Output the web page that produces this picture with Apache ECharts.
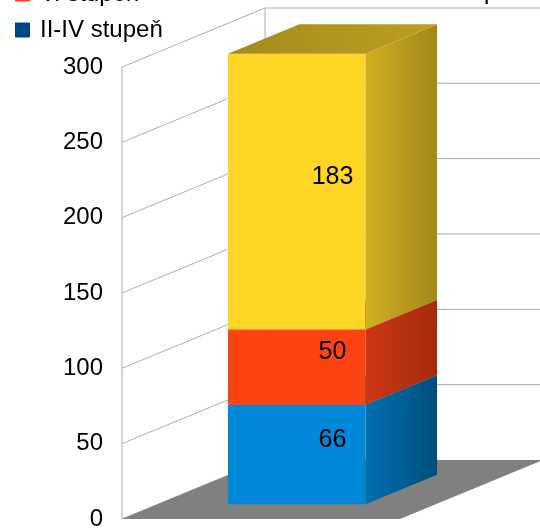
<!DOCTYPE html>
<html>
<head>
<meta charset="utf-8">
<script src="https://cdn.jsdelivr.net/npm/echarts@6/dist/echarts.min.js"></script>
<style>
html, body { margin: 0; padding: 0; background: #fff; }
#chart { width: 540px; height: 531px; }
</style>
</head>
<body>
<div id="chart"></div>
<script>
var categories = [''];
var yTicks = [0, 50, 100, 150, 200, 250, 300];
var blueName = 'II-IV stupeň';
var redName = 'V. stupeň';
var yellowName = 'ostatní';
var blueValues = [66];
var redValues = [50];
var yellowValues = [183];

// 3d look: depth of the box in pixels, bar sits from 1/4 to 3/4 of it
var DEPTH = [143, -59];
var FONT = 'Liberation Sans';

var chart = echarts.init(document.getElementById('chart'));

function stackData(vals, below) {
    return vals.map(function (v, i) {
        var lo = 0;
        below.forEach(function (b) { lo += b[i]; });
        return [i, lo, lo + v, v];
    });
}

function grad(c1, c2, x2, y2) {
    return new echarts.graphic.LinearGradient(0, 0, x2, y2, [
        {offset: 0, color: c1}, {offset: 1, color: c2}
    ]);
}

function boxItem(faces) {
    return function (params, api) {
        var cat = api.value(0), lo = api.value(1), hi = api.value(2);
        var c0 = api.coord([cat, lo]), c1 = api.coord([cat, hi]);
        var hw = api.size([1, 0])[0] * 0.2475;
        var fx = DEPTH[0] * 0.25, fy = DEPTH[1] * 0.25;
        var bx = DEPTH[0] * 0.75, by = DEPTH[1] * 0.75;
        var xl = c0[0] - hw, xr = c0[0] + hw;
        var yb = c0[1], yt = c1[1];
        var front = [[xl + fx, yb + fy], [xr + fx, yb + fy], [xr + fx, yt + fy], [xl + fx, yt + fy]];
        var side = [[xr + fx, yb + fy], [xr + bx, yb + by], [xr + bx, yt + by], [xr + fx, yt + fy]];
        var top = [[xl + fx, yt + fy], [xr + fx, yt + fy], [xr + bx, yt + by], [xl + bx, yt + by]];
        var mid = api.coord([cat, (lo + hi) / 2]);
        return {
            type: 'group',
            children: [
                {type: 'polygon', shape: {points: front}, style: {fill: faces.front}},
                {type: 'polygon', shape: {points: side}, style: {fill: grad(faces.side[0], faces.side[1], 1, 0)}},
                {type: 'polygon', shape: {points: top}, style: {fill: grad(faces.top[0], faces.top[1], 1, 0)}},
                {
                    type: 'text', z2: 10,
                    x: mid[0] + DEPTH[0] * 0.5, y: mid[1] + DEPTH[1] * 0.5,
                    style: {
                        text: String(api.value(3)), fill: '#000', fontSize: 25, fontFamily: FONT,
                        align: 'center', verticalAlign: 'middle'
                    }
                }
            ]
        };
    };
}

function wallItem(params, api) {
    var v = api.value(1);
    var p = api.coord([0, v]);
    var bw = api.size([1, 0])[0];
    var xl = p[0] - bw / 2, xr = p[0] + bw / 2;
    var line = {stroke: '#adadad', lineWidth: 1};
    var kids = [
        {type: 'line', shape: {x1: xl, y1: p[1], x2: xl + DEPTH[0], y2: p[1] + DEPTH[1]}, style: line}
    ];
    if (v > 0) {
        kids.push({type: 'line', shape: {x1: xl + DEPTH[0], y1: p[1] + DEPTH[1], x2: xr + DEPTH[0], y2: p[1] + DEPTH[1]}, style: line});
    } else {
        var t = api.coord([0, yTicks[yTicks.length - 1]]);
        kids.push({type: 'line', shape: {x1: xl, y1: p[1], x2: xl, y2: t[1]}, style: line});
        kids.push({type: 'line', shape: {x1: xl + DEPTH[0], y1: p[1] + DEPTH[1], x2: xl + DEPTH[0], y2: t[1] + DEPTH[1]}, style: line});
        kids.push({
            type: 'polygon', z2: 5,
            shape: {points: [[xl, p[1]], [xr, p[1]], [xr + DEPTH[0], p[1] + DEPTH[1]], [xl + DEPTH[0], p[1] + DEPTH[1]]]},
            style: {fill: '#808080'}
        });
    }
    return {type: 'group', children: kids};
}

var option = {
    animation: false,
    grid: {left: 122, right: 140, top: 67, bottom: 9},
    legend: {
        data: [redName, blueName],
        orient: 'vertical',
        left: 10,
        top: -23,
        icon: 'rect',
        itemWidth: 15,
        itemHeight: 15,
        itemGap: 12,
        selectedMode: false,
        textStyle: {fontSize: 24, color: '#000', fontFamily: FONT, padding: [0, 0, 0, 5]}
    },
    graphic: [{
        type: 'text', left: 452, top: -20,
        style: {text: 'stupeň', fontSize: 24, fontFamily: FONT, fill: '#000'}
    }],
    xAxis: {
        type: 'category',
        data: categories,
        axisLine: {show: false},
        axisTick: {show: false},
        axisLabel: {show: false}
    },
    yAxis: {
        type: 'value',
        min: 0,
        max: 300,
        interval: 50,
        axisLine: {show: false},
        axisTick: {show: false},
        splitLine: {show: false},
        axisLabel: {fontSize: 24, color: '#000', margin: 19, fontFamily: FONT}
    },
    series: [
        {
            type: 'custom', name: 'walls', silent: true, z: 1,
            renderItem: wallItem,
            encode: {x: 0, y: 1},
            data: yTicks.map(function (v) { return [0, v]; })
        },
        {
            type: 'custom', name: blueName, z: 3,
            itemStyle: {color: '#004586'},
            renderItem: boxItem({front: '#0088d8', side: ['#006fb0', '#004e7c'], top: ['#0070b2', '#0080c8']}),
            encode: {x: 0, y: [1, 2]},
            data: stackData(blueValues, [])
        },
        {
            type: 'custom', name: redName, z: 4,
            itemStyle: {color: '#ff420e'},
            renderItem: boxItem({front: '#fd4410', side: ['#cc3712', '#a42b0c'], top: ['#c43510', '#d83c12']}),
            encode: {x: 0, y: [1, 2]},
            data: stackData(redValues, [blueValues])
        },
        {
            type: 'custom', name: yellowName, z: 5,
            itemStyle: {color: '#ffd320'},
            renderItem: boxItem({front: '#fdd626', side: ['#d2b022', '#a2871a'], top: ['#a48b1b', '#bc9f22']}),
            encode: {x: 0, y: [1, 2]},
            data: stackData(yellowValues, [blueValues, redValues])
        }
    ]
};

chart.setOption(option);
</script>
</body>
</html>
